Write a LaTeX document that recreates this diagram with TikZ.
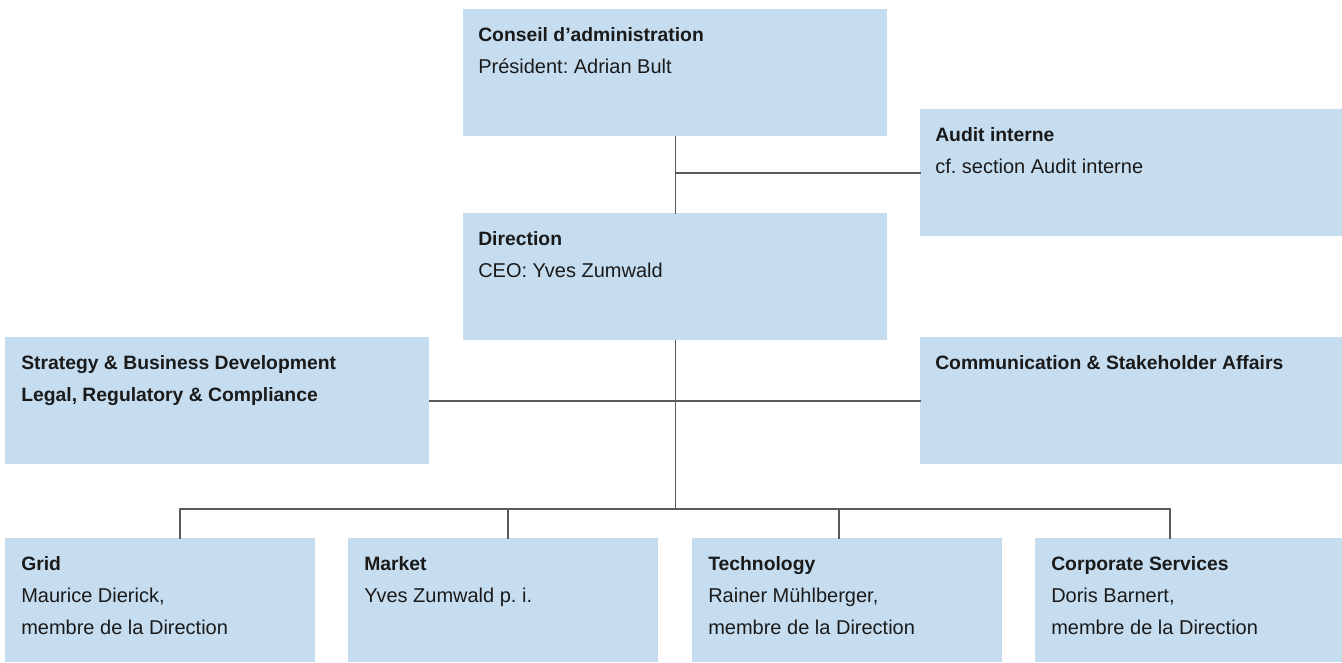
\documentclass[tikz,border=0pt]{standalone}
\usepackage{fontspec}
\setmainfont{Liberation Sans}
\frenchspacing
\usetikzlibrary{calc}
\definecolor{boxblue}{HTML}{C6DDF0}
\definecolor{linegray}{HTML}{5A5A5A}
\definecolor{inkblack}{HTML}{1A1A1A}
\newcommand{\head}[1]{{\fontsize{14.5}{24}\selectfont\bfseries #1}}
\tikzset{
  orgbox/.style={fill=boxblue, anchor=north west, inner sep=0pt, minimum width=424*0.75pt, minimum height=127*0.75pt},
  unitbox/.style={orgbox, minimum width=310*0.75pt, minimum height=124*0.75pt},
  boxtext/.style={anchor=north west, align=left, inner sep=0pt, text=inkblack, font=\fontsize{15}{24}\selectfont},
  link/.style={draw=linegray, line width=1.1pt, line cap=rect},
}
\begin{document}
\begin{tikzpicture}[x=0.75pt,y=-0.75pt]
\useasboundingbox (0,0) rectangle (1342,662);
% board and management
\node[orgbox] (conseil) at (463,9) {};
\node[boxtext] (conseil-t) at ($(conseil.north west)+(15,18)$) {\head{Conseil d’administration}\\Président: Adrian Bult};
\node[orgbox, minimum width=422*0.75pt] (audit) at (920,109) {};
\node[boxtext] (audit-t) at ($(audit.north west)+(15,18)$) {\head{Audit interne}\\cf. section Audit interne};
\node[orgbox] (direction) at (463,213) {};
\node[boxtext] (direction-t) at ($(direction.north west)+(15,18)$) {\head{Direction}\\CEO: Yves Zumwald};
% staff units
\node[orgbox] (strategy) at (5,337) {};
\node[boxtext] (strategy-t) at ($(strategy.north west)+(16,18)$) {\head{Strategy \& Business Development}\\\head{Legal, Regulatory \& Compliance}};
\node[orgbox, minimum width=422*0.75pt] (communication) at (920,337) {};
\node[boxtext] (communication-t) at ($(communication.north west)+(15,18)$) {\head{Communication \& Stakeholder Affairs}};
% divisions
\node[unitbox] (grid) at (5,538) {};
\node[boxtext] (grid-t) at ($(grid.north west)+(16,18)$) {\head{Grid}\\Maurice Dierick,\\membre de la Direction};
\node[unitbox] (market) at (348,538) {};
\node[boxtext] (market-t) at ($(market.north west)+(16,18)$) {\head{Market}\\Yves Zumwald p. i.};
\node[unitbox] (technology) at (692,538) {};
\node[boxtext] (technology-t) at ($(technology.north west)+(16,18)$) {\head{Technology}\\Rainer Mühlberger,\\membre de la Direction};
\node[unitbox, minimum width=307*0.75pt] (corporate) at (1035,538) {};
\node[boxtext] (corporate-t) at ($(corporate.north west)+(16,18)$) {\head{Corporate Services}\\Doris Barnert,\\membre de la Direction};
% connectors
\draw[link] (conseil) -- (direction);
\draw[link] (audit.west) -- (audit.west -| conseil.south);
\coordinate (bus) at (676,509);
\draw[link] (direction) -- (direction.south |- bus);
\draw[link] (strategy) -- (communication);
\foreach \unit/\dx in {grid/175, market/160, technology/147, corporate/135}
  \draw[link] ($(\unit.north west)+(\dx,0)$) coordinate (\unit-top) -- (\unit-top |- bus) coordinate (\unit-bus);
\draw[link] (grid-bus) -- (corporate-bus);
\end{tikzpicture}
\end{document}
